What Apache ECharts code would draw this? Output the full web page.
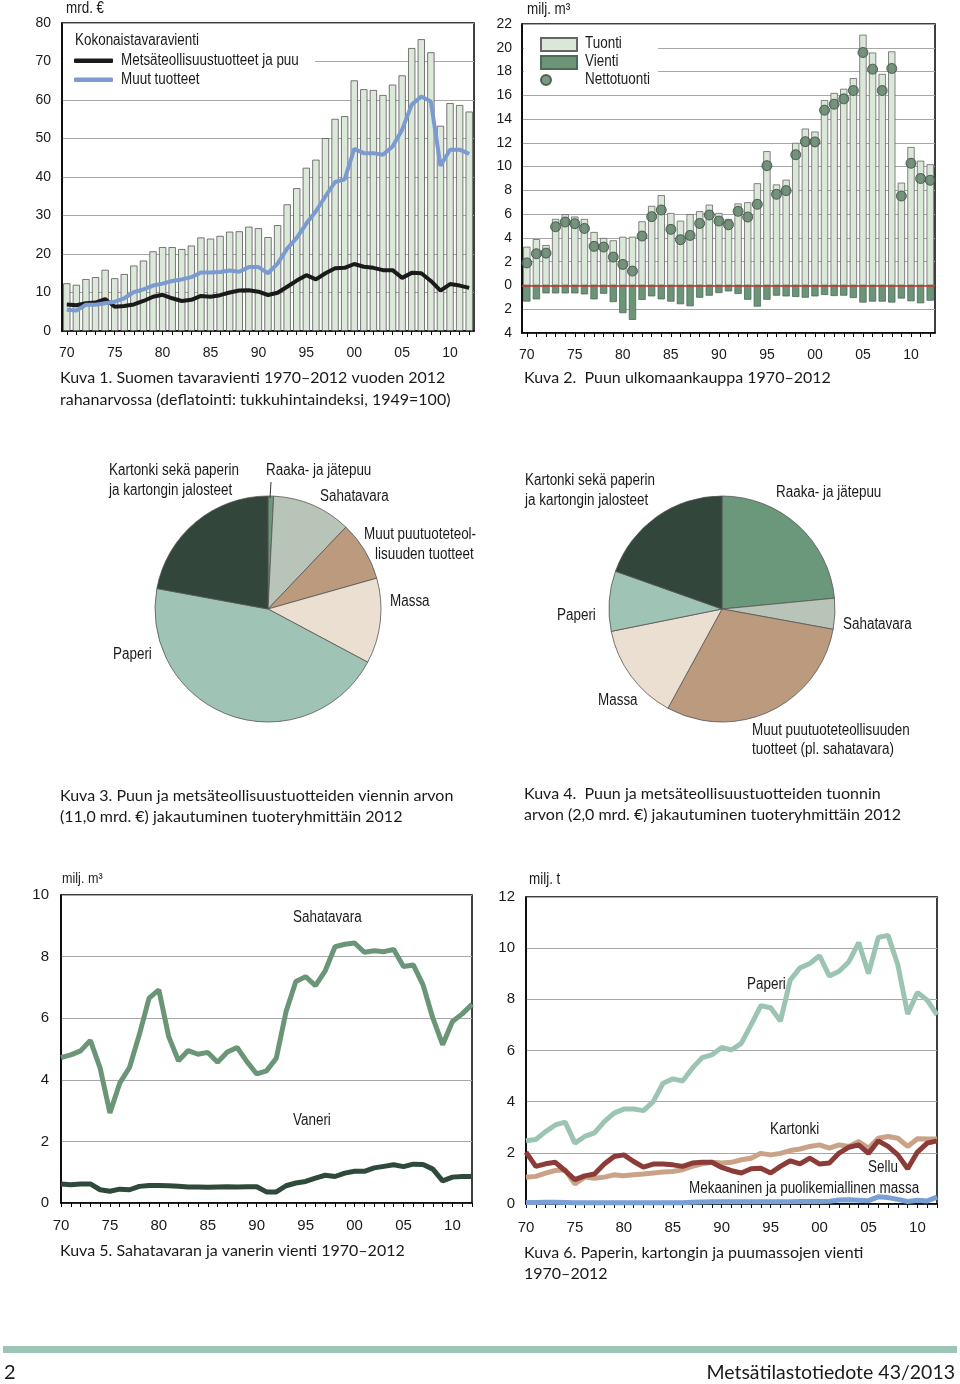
<!DOCTYPE html>
<html><head><meta charset="utf-8">
<script src="https://cdn.jsdelivr.net/npm/echarts@6/dist/echarts.min.js"></script>
<style>html,body{margin:0;padding:0;background:#fff}#c{width:960px;height:1384px}</style>
</head><body><div id="c"></div>
<script>
const years = ['1970','1971','1972','1973','1974','1975','1976','1977','1978','1979',
  '1980','1981','1982','1983','1984','1985','1986','1987','1988','1989',
  '1990','1991','1992','1993','1994','1995','1996','1997','1998','1999',
  '2000','2001','2002','2003','2004','2005','2006','2007','2008','2009',
  '2010','2011','2012'];
// Kuva 1 (mrd. €)
const totalExports = [12.4,12.0,13.5,14.0,15.9,13.7,14.8,17.0,18.3,20.7,
  21.8,21.8,21.3,22.2,24.3,24.0,24.7,25.8,25.9,27.1,
  26.7,24.4,27.5,32.9,37.1,42.4,44.5,50.1,55.1,55.8,
  65.1,62.8,62.6,61.3,64.0,66.4,73.5,75.8,72.4,53.3,
  59.2,58.7,57.0];
const forestExports = [6.9,6.7,7.2,7.4,8.3,6.3,6.5,6.9,7.8,8.9,
  9.4,8.5,7.8,8.1,9.1,8.9,9.3,10.0,10.5,10.6,
  10.2,9.35,9.95,11.5,13.1,14.5,13.4,15.0,16.3,16.4,
  17.4,16.7,16.4,15.8,15.8,13.8,15.1,15.0,13.0,10.5,
  12.2,11.8,11.2];
const otherExports = [5.5,5.3,6.8,6.8,7.2,7.6,8.5,10.1,10.8,11.8,
  12.3,13.0,13.4,14.0,15.2,15.2,15.3,15.7,15.4,16.6,
  16.6,15.0,17.5,21.4,24.2,27.9,31.1,35.0,38.7,39.4,
  47.3,46.2,46.2,45.8,47.9,52.3,58.8,60.9,59.6,42.9,
  47.1,47.1,46.0];
// Kuva 2 (milj. m3)
const woodImports = [3.26,3.9,3.4,5.6,6.0,5.8,5.6,4.5,4.0,3.8,
  4.1,4.1,5.4,6.7,7.6,6.1,5.45,6.0,6.25,6.8,
  6.1,5.6,6.9,7.0,8.6,11.3,8.5,8.9,12.0,13.2,
  12.95,15.6,16.2,16.55,17.45,21.1,19.6,17.8,19.7,8.65,
  11.65,10.5,10.2];
const woodExports = [-1.36,-1.17,-0.67,-0.67,-0.67,-0.67,-0.75,-1.17,-0.7,-1.4,
  -2.33,-2.9,-1.22,-0.92,-1.17,-1.36,-1.58,-1.75,-1.03,-0.86,
  -0.64,-0.5,-0.72,-1.2,-1.78,-1.2,-0.86,-0.92,-0.97,-1.03,
  -0.92,-0.8,-0.89,-0.86,-1.06,-1.44,-1.36,-1.36,-1.44,-1.1,
  -1.33,-1.5,-1.28];
const netImports = [1.9,2.67,2.72,4.94,5.34,5.2,4.8,3.29,3.23,2.39,
  1.77,1.21,4.16,5.79,6.35,4.72,3.85,4.21,5.22,5.93,
  5.42,5.11,6.24,5.76,6.83,10.08,7.67,7.98,11.0,12.1,
  12.08,14.75,15.25,15.7,16.4,19.6,18.2,16.4,18.26,7.53,
  10.28,9.0,8.85];
// Kuva 3 & 4 (%)
const pieCategories = ['Raaka- ja jätepuu','Sahatavara','Muut puutuoteteollisuuden tuotteet','Massa','Paperi','Kartonki sekä paperin ja kartongin jalosteet'];
const exportShares = [0.8,11.3,8.5,12.2,45.1,22.1];
const importShares = [23.5,4.4,30.1,13.9,8.6,19.6];
// Kuva 5 (milj. m3)
const sawnwood = [4.72,4.81,4.94,5.28,4.38,2.92,3.89,4.4,5.46,6.65,
  6.92,5.41,4.62,4.95,4.83,4.89,4.57,4.9,5.05,4.59,
  4.19,4.29,4.7,6.22,7.19,7.35,7.06,7.54,8.32,8.4,
  8.44,8.14,8.19,8.16,8.23,7.68,7.73,7.08,6.0,5.14,
  5.89,6.14,6.45];
const plywood = [0.62,0.59,0.62,0.62,0.43,0.38,0.45,0.43,0.54,0.57,
  0.57,0.56,0.54,0.52,0.52,0.51,0.52,0.53,0.52,0.53,
  0.53,0.36,0.36,0.56,0.65,0.7,0.81,0.9,0.86,0.97,
  1.03,1.03,1.14,1.19,1.24,1.18,1.26,1.25,1.1,0.72,
  0.84,0.86,0.86];
// Kuva 6 (milj. t)
const paper = [2.47,2.52,2.83,3.09,3.2,2.38,2.64,2.78,3.22,3.55,
  3.71,3.71,3.65,4.0,4.72,4.89,4.81,5.31,5.72,5.83,
  6.12,6.02,6.28,7.0,7.75,7.67,7.15,8.75,9.23,9.4,
  9.7,8.91,9.1,9.47,10.22,9.01,10.42,10.5,9.34,7.43,
  8.27,7.97,7.39];
const paperboard = [1.05,1.08,1.21,1.31,1.34,0.78,1.05,1.01,1.05,1.14,
  1.1,1.14,1.17,1.21,1.25,1.27,1.34,1.47,1.57,1.63,
  1.6,1.63,1.73,1.79,1.98,1.92,1.98,2.09,2.15,2.25,
  2.31,2.18,2.31,2.25,2.44,2.18,2.57,2.64,2.57,2.25,
  2.55,2.54,2.54];
const chemPulp = [2.03,1.47,1.57,1.63,1.3,0.95,1.1,1.17,1.56,1.86,
  1.92,1.66,1.44,1.56,1.56,1.53,1.47,1.6,1.63,1.63,
  1.43,1.3,1.21,1.38,1.4,1.21,1.47,1.69,1.57,1.79,
  1.56,1.6,1.99,2.22,2.31,1.98,2.47,2.25,1.92,1.38,
  2.03,2.38,2.47];
const mechPulp = [0.06,0.06,0.07,0.07,0.06,0.05,0.05,0.05,0.05,0.05,
  0.05,0.05,0.05,0.05,0.05,0.05,0.05,0.07,0.08,0.09,
  0.09,0.09,0.09,0.09,0.09,0.09,0.09,0.09,0.1,0.1,
  0.1,0.11,0.16,0.17,0.15,0.13,0.28,0.25,0.18,0.1,
  0.15,0.12,0.27];

const SANS = "'Liberation Sans',Arial,sans-serif";
const GILL = "'Lato','Open Sans',sans-serif";
const INK = '#1a1a1a';
const pieColors = ['#6b977a','#b8c4b8','#bc9a7e','#ebdfd1','#9fc3b4','#33463b'];

function txt(x, y, s, o) {
  o = o || {};
  const narrow = !o.family;
  return {type:'text', x:x, y:y, z:10, silent:true, scaleX: narrow ? 0.84 : 1,
    style:{text:s, fill:o.fill||INK, fontSize:o.size||16, fontFamily:o.family||SANS,
      align:o.align||'left', verticalAlign:'middle'}};
}
// one legend component per key so that each swatch sits exactly where the original has it;
// the key text itself is drawn as narrow graphic text next to it
function key(name, left, top, w, h, icon) {
  return {data:[{name:name, icon:icon}], left:left, top:top, padding:0, itemWidth:w, itemHeight:h,
    selectedMode:false, formatter:function(){return '';}, textStyle:{fontSize:1, lineHeight:1}};
}

function catAxis(gi, gap, margin, size) {
  return {gridIndex:gi, type:'category', data:years, boundaryGap:gap,
    axisLine:{show:true, onZero:false, lineStyle:{color:'#000', width:1.5}},
    axisTick:{show:true, interval:0, alignWithLabel:true, length:4, lineStyle:{color:'#000'}},
    axisLabel:{interval:4, formatter:function(v){return v.slice(2);}, margin:margin, fontSize:size, color:INK, fontFamily:SANS},
    splitLine:{show:false}};
}
function valAxis(gi, min, max, step, margin, size, fmt) {
  return {gridIndex:gi, type:'value', min:min, max:max, interval:step,
    axisLine:{show:true, lineStyle:{color:'#000', width:1.5}},
    axisTick:{show:false},
    axisLabel:{margin:margin, fontSize:size, color:INK, fontFamily:SANS, formatter:fmt},
    splitLine:{show:true, lineStyle:{color:'#a8a8a8', width:1}}};
}
function lineS(xi, data, color, width, name) {
  return {type:'line', name:name, xAxisIndex:xi, yAxisIndex:xi, data:data, symbol:'none', showSymbol:false,
    lineStyle:{color:color, width:width}, itemStyle:{color:color}, z:3, silent:true};
}

const chart = echarts.init(document.getElementById('c'), null, {renderer:'canvas'});
const option = {
  backgroundColor:'#fff',
  animation:false,
  grid:[
    {left:62, top:23, width:412, height:308, show:true, borderColor:'#000', borderWidth:1.5},
    {left:522, top:24, width:413, height:309, show:true, borderColor:'#000', borderWidth:1.5},
    {left:61, top:895, width:411, height:308, show:true, borderColor:'#000', borderWidth:1.5},
    {left:526, top:897, width:411, height:307, show:true, borderColor:'#000', borderWidth:1.5}
  ],
  xAxis:[catAxis(0,true,15,14), catAxis(1,true,15,14), catAxis(2,false,15,15), catAxis(3,false,16,15)],
  yAxis:[
    valAxis(0,0,80,10,11,14),
    valAxis(1,-4,22,2,10,14,function(v){return String(Math.abs(v));}),
    valAxis(2,0,10,2,12,15),
    valAxis(3,0,12,2,11,15)
  ],
  legend:[
    key('Metsäteollisuustuotteet ja puu', 74, 58.5, 39, 4.5, 'roundRect'),
    key('Muut tuotteet', 74, 77.5, 39, 4.5, 'roundRect'),
    key('Tuonti', 540, 37, 36, 13, 'rect'),
    key('Vienti', 540, 55, 36, 13, 'rect'),
    key('Nettotuonti', 540, 74, 36, 10, 'circle')
  ],
  series:[
    {type:'bar', name:'Kokonaistavaravienti', xAxisIndex:0, yAxisIndex:0, data:totalExports, barCategoryGap:'24%',
     itemStyle:{color:'#dce8d9', borderColor:'#555', borderWidth:0.8}, silent:true},
    lineS(0, forestExports, '#1a1a1a', 4, 'Metsäteollisuustuotteet ja puu'),
    lineS(0, otherExports, '#7b9bd0', 4, 'Muut tuotteet'),
    {type:'bar', name:'Tuonti', xAxisIndex:1, yAxisIndex:1, stack:'wood', data:woodImports, barCategoryGap:'24%',
     itemStyle:{color:'#dbe7d9', borderColor:'#666', borderWidth:0.8}, silent:true},
    {type:'bar', name:'Vienti', xAxisIndex:1, yAxisIndex:1, stack:'wood', data:woodExports, barCategoryGap:'24%',
     itemStyle:{color:'#6b9479', borderColor:'#4b6b55', borderWidth:0.8}, silent:true,
     markLine:{silent:true, symbol:'none', label:{show:false}, lineStyle:{color:'#c0392b', width:1.5, type:'solid'}, data:[{yAxis:0}]}},
    {type:'scatter', name:'Nettotuonti', xAxisIndex:1, yAxisIndex:1, data:netImports, symbolSize:10,
     itemStyle:{color:'#5b7d64', borderColor:'#33493a', borderWidth:1}, z:5, silent:true},
    {type:'pie', center:[268,609], radius:113, startAngle:90, clockwise:true, silent:true,
     label:{show:false}, labelLine:{show:false}, itemStyle:{borderColor:'#555', borderWidth:0.8},
     data:pieCategories.map(function(n,i){return {name:n, value:exportShares[i], itemStyle:{color:pieColors[i]}};})},
    {type:'pie', center:[722,609], radius:113, startAngle:90, clockwise:true, silent:true,
     label:{show:false}, labelLine:{show:false}, itemStyle:{borderColor:'#555', borderWidth:0.8},
     data:pieCategories.map(function(n,i){return {name:n, value:importShares[i], itemStyle:{color:pieColors[i]}};})},
    lineS(2, sawnwood, '#6a9677', 5, 'Sahatavara'),
    lineS(2, plywood, '#2f4a3a', 5, 'Vaneri'),
    lineS(3, paper, '#9cc4b2', 5, 'Paperi'),
    lineS(3, paperboard, '#c9a287', 5, 'Kartonki'),
    lineS(3, chemPulp, '#8b3b38', 5, 'Sellu'),
    lineS(3, mechPulp, '#7a9fd4', 5, 'Mekaaninen ja puolikemiallinen massa')
  ],
  graphic:{elements:[
    {type:'rect', shape:{x:63,y:24,width:252,height:70}, style:{fill:'#fff'}, z:3, silent:true},
    {type:'rect', shape:{x:524,y:25,width:134,height:68}, style:{fill:'#fff'}, z:3, silent:true},
    txt(66, 9, 'mrd. €'),
    txt(75, 41, 'Kokonaistavaravienti'),
    txt(121, 61, 'Metsäteollisuustuotteet ja puu'),
    txt(121, 80, 'Muut tuotteet'),
    txt(527, 10, 'milj. m³'),
    txt(585, 44, 'Tuonti'),
    txt(585, 62, 'Vienti'),
    txt(585, 80, 'Nettotuonti'),
    // pie 1 labels
    txt(109, 471, 'Kartonki sekä paperin'),
    txt(109, 491, 'ja kartongin jalosteet'),
    txt(266, 471, 'Raaka- ja jätepuu'),
    {type:'line', shape:{x1:271,y1:482,x2:270,y2:498}, style:{stroke:'#333', lineWidth:1}, z:10, silent:true},
    txt(320, 497, 'Sahatavara'),
    txt(364, 535, 'Muut puutuoteteol-'),
    txt(375, 555, 'lisuuden tuotteet'),
    txt(390, 602, 'Massa'),
    txt(113, 655, 'Paperi'),
    // pie 2 labels
    txt(525, 481, 'Kartonki sekä paperin'),
    txt(525, 501, 'ja kartongin jalosteet'),
    txt(776, 493, 'Raaka- ja jätepuu'),
    txt(557, 616, 'Paperi'),
    txt(843, 625, 'Sahatavara'),
    txt(598, 701, 'Massa'),
    txt(752, 731, 'Muut puutuoteteollisuuden'),
    txt(752, 750, 'tuotteet (pl. sahatavara)'),
    // chart 5/6 labels
    txt(62, 879, 'milj. m³', {size:15}),
    txt(293, 918, 'Sahatavara'),
    txt(293, 1121, 'Vaneri'),
    txt(529, 880, 'milj. t'),
    txt(747, 985, 'Paperi'),
    txt(770, 1130, 'Kartonki'),
    txt(868, 1168, 'Sellu'),
    txt(689, 1189, 'Mekaaninen ja puolikemiallinen massa'),
    // captions
    txt(60, 378, 'Kuva 1. Suomen tavaravienti 1970–2012 vuoden 2012', {size:16, family:GILL}),
    txt(60, 400, 'rahanarvossa (deflatointi: tukkuhintaindeksi, 1949=100)', {size:16, family:GILL}),
    txt(524, 378, 'Kuva 2.  Puun ulkomaankauppa 1970–2012', {size:16, family:GILL}),
    txt(60, 796, 'Kuva 3. Puun ja metsäteollisuustuotteiden viennin arvon', {size:16, family:GILL}),
    txt(60, 817, '(11,0 mrd. €) jakautuminen tuoteryhmittäin 2012', {size:16, family:GILL}),
    txt(524, 794, 'Kuva 4.  Puun ja metsäteollisuustuotteiden tuonnin', {size:16, family:GILL}),
    txt(524, 815, 'arvon (2,0 mrd. €) jakautuminen tuoteryhmittäin 2012', {size:16, family:GILL}),
    txt(60, 1251, 'Kuva 5. Sahatavaran ja vanerin vienti 1970–2012', {size:16, family:GILL}),
    txt(524, 1253, 'Kuva 6. Paperin, kartongin ja puumassojen vienti', {size:16, family:GILL}),
    txt(524, 1274, '1970–2012', {size:16, family:GILL}),
    // footer
    {type:'rect', shape:{x:3,y:1346,width:954,height:7}, style:{fill:'#9cc5b5'}, z:3, silent:true},
    txt(4, 1373, '2', {size:20, family:GILL}),
    txt(955, 1373, 'Metsätilastotiedote 43/2013', {size:19.5, family:GILL, align:'right'})
  ]}
};
chart.setOption(option);
</script>
</body></html>
